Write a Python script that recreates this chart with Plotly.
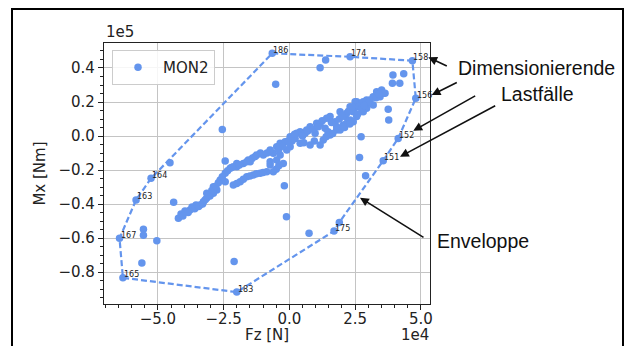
import plotly.graph_objects as go

# Fz in units of 1e4 N, Mx in units of 1e5 Nm (as shown on the axes)
band_fz = [-4.22, -4.12, -3.97, -3.78, -3.70, -3.55, -3.40, -3.27, -3.14, -3.14, -3.02, -2.89,
           -2.76, -2.63, -2.44, -2.44, -2.25, -2.13, -2.00, -1.75, -1.62, -1.56, -1.24, -1.10,
           -0.99, -0.73, -0.61, -0.48, -0.10, -2.00, -1.49, -3.90, -3.65, -2.89,
           -2.13, -1.87, -1.62, -1.37, -1.11, -0.86, -0.61, -0.73, -0.48, -0.23, -0.73, -0.35,
           -0.73, -0.35, -0.16, 0.03, 0.03, 0.22, 0.41, 0.41, 0.60, 0.79, 0.79, 0.98, 1.17,
           1.17, 1.29, 1.36, 1.47, 1.55, 1.55, 1.74, 1.80, 1.93, 1.93, 2.05, 2.12, 2.31, 2.31,
           2.43, 2.56, 2.56, 2.81, 0.28, 0.66, 1.04, 1.42, 1.80,
           2.18, 2.43, 2.69, 2.94, 3.19, 3.32, 3.51, 3.57, 3.19, 2.94, 2.05, 2.18, 2.43, 3.45,
           3.64, 3.07, 2.81, 2.50, 2.56,
           -4.05, -3.85, -3.60, -3.45, -3.30, -3.20, -3.05, -2.95, -2.80, -2.70, -2.55, -2.35,
           -2.20, -1.90, -1.40, -1.30, -0.85, -0.40, -0.25,
           -2.00, -1.75, -1.50, -1.25, -1.00, -0.50, -0.40,
           0.10, 0.50, 0.70, 0.90, 1.10, 1.25, 1.60, 1.90, 2.00, 2.25, 2.40, 2.65, 2.75, 3.00,
           3.30, 3.40, 0.55, 0.95, 1.40, 1.65, 2.10, 2.30, 2.60, 2.85, 0.20, -0.05]
band_mx = [-0.484, -0.459, -0.441, -0.435, -0.418, -0.406, -0.406, -0.386, -0.365, -0.337, -0.353, -0.298,
           -0.318, -0.259, -0.269, -0.219, -0.190, -0.181, -0.181, -0.161, -0.151, -0.141, -0.112, -0.100,
           -0.112, -0.092, -0.102, -0.063, -0.082, -0.161, -0.151, -0.445, -0.425, -0.337,
           -0.288, -0.269, -0.239, -0.229, -0.219, -0.210, -0.210, -0.171, -0.141, -0.161, -0.151, -0.112,
           -0.082, -0.043, -0.034, -0.063, -0.004, -0.014, -0.043, 0.025, 0.016, 0.055, -0.053, 0.016, 0.075,
           -0.053, -0.024, 0.045, 0.025, 0.114, 0.006, 0.084, 0.035, 0.143, 0.035, 0.065, 0.114, 0.172, 0.094,
           0.143, 0.202, 0.114, 0.143, 0.016, 0.035, 0.075, 0.104, 0.055,
           0.134, 0.153, 0.192, 0.212, 0.231, 0.261, 0.271, 0.251, 0.182, 0.163, 0.055, 0.075, 0.084, 0.231,
           0.251, 0.212, 0.202, 0.202, 0.172,
           -0.470, -0.450, -0.428, -0.415, -0.400, -0.375, -0.345, -0.320, -0.295, -0.275, -0.240, -0.205,
           -0.185, -0.170, -0.130, -0.120, -0.100, -0.080, -0.060,
           -0.280, -0.255, -0.235, -0.222, -0.215, -0.195, -0.175,
           -0.030, 0.000, 0.030, 0.040, 0.055, 0.090, 0.080, 0.100, 0.120, 0.145, 0.170, 0.175, 0.160, 0.195,
           0.225, 0.245, -0.040, -0.030, -0.005, 0.015, 0.050, 0.070, 0.130, 0.180, 0.010, -0.030]

other_fz = [-0.52, -2.55, 1.17, 1.38, 3.94, 4.35, 3.92, 4.20, 3.76, 3.78, 2.73, 2.67, 2.90,
            -0.19, -0.11, 0.75, -2.44, -2.10, -4.54, -4.40, -5.55, -5.55, -5.04, -5.61]
other_mx = [0.304, 0.039, 0.402, 0.447, 0.359, 0.366, 0.310, 0.310, 0.157, 0.094, -0.004, -0.126, -0.234,
            -0.292, -0.475, -0.572, -0.147, -0.738, -0.157, -0.390, -0.549, -0.584, -0.616, -0.747]

# envelope vertices (in drawing order)
env_fz = [-0.65, 2.31, 4.68, 4.81, 4.14, 3.57, 1.90, 1.70, -2.00, -6.33, -6.46, -5.83, -5.26]
env_mx = [0.486, 0.466, 0.443, 0.222, -0.014, -0.145, -0.508, -0.559, -0.918, -0.834, -0.602, -0.376, -0.249]
env_labels = ["186", "174", "158", "156", "152", "151", "", "175", "183", "165", "167", "163", "164"]

fz_all = band_fz + other_fz + env_fz
mx_all = band_mx + other_mx + env_mx

BLUE = "#6495ED"
OFF = 8                      # default page margin of the browser body
W, H = 635 - OFF, 354 - 2 * OFF
# plot area in picture pixels
L, R, T, B = 104, 430, 43, 304

def px(x):
    return (x - L) / (R - L)

def py(y):
    return (B - y) / (B - T)

fig = go.Figure()
fig.add_trace(go.Scatter(
    x=env_fz + env_fz[:1], y=env_mx + env_mx[:1], mode="lines",
    line=dict(color=BLUE, width=2.2, dash="6px,3px"), showlegend=False, hoverinfo="skip"))
fig.add_trace(go.Scatter(
    x=fz_all, y=mx_all, mode="markers", name="MON2",
    marker=dict(color=BLUE, size=7.5, line=dict(width=0))))

annotations = []
for fx, my, lab in zip(env_fz, env_mx, env_labels):
    if lab:
        annotations.append(dict(x=fx, y=my, xref="x", yref="y", text=lab, showarrow=False,
                                xanchor="left", yanchor="middle", xshift=-1, yshift=3,
                                font=dict(size=8, color="#222", family="DejaVu Sans")))

afont = dict(size=19.5, color="#111", family="Liberation Sans, Arial")
annotations += [
    dict(x=px(536), y=py(68), xref="paper", yref="paper", text="Dimensionierende",
         showarrow=False, xanchor="center", yanchor="middle", font=afont),
    dict(x=px(537), y=py(94), xref="paper", yref="paper", text="Lastfälle",
         showarrow=False, xanchor="center", yanchor="middle", font=afont),
    dict(x=px(483), y=py(241), xref="paper", yref="paper", text="Enveloppe",
         showarrow=False, xanchor="center", yanchor="middle", font=afont),
]
arrows = [((428.3, 57.3), (448.3, 66.7)),
          ((431.7, 95.0), (458.3, 81.7)),
          ((413.3, 130.7), (476.7, 95.0)),
          ((400.0, 156.7), (496.7, 105.0)),
          ((360.0, 197.7), (425.0, 238.3))]
for (tx, ty), (sx, sy) in arrows:
    annotations.append(dict(x=px(tx), y=py(ty), xref="paper", yref="paper", text="",
                            showarrow=True, ax=sx - tx, ay=sy - ty, arrowhead=2,
                            arrowsize=1.1, arrowwidth=1.6, arrowcolor="#111"))

tfont = dict(size=15, color="#222", family="DejaVu Sans")
annotations += [
    dict(x=0, y=1, xref="paper", yref="paper", text="1e5", showarrow=False,
         xanchor="left", yanchor="bottom", font=tfont),
    dict(x=1, y=py(335), xref="paper", yref="paper", text="1e4", showarrow=False,
         xanchor="right", yanchor="middle", borderpad=0, font=tfont),
    dict(x=0.5, y=py(335), xref="paper", yref="paper", text="Fz [N]", showarrow=False,
         xanchor="center", yanchor="middle", borderpad=0, font=tfont),
]

fig.update_layout(
    width=W, height=H,
    margin=dict(l=L - OFF, r=635 - R, t=T - OFF, b=(354 - OFF) - B, autoexpand=False),
    paper_bgcolor="white", plot_bgcolor="white",
    font=tfont,
    showlegend=True,
    legend=dict(x=px(112), y=py(50), xanchor="left", yanchor="top",
                bgcolor="rgba(255,255,255,0.85)", bordercolor="#cccccc", borderwidth=1,
                font=dict(size=15, color="#222", family="DejaVu Sans"),
                itemwidth=40),
    annotations=annotations,
    shapes=[dict(type="rect", xref="paper", yref="paper",
                 x0=px(12), x1=px(623), y0=py(362), y1=py(9),
                 line=dict(color="black", width=2), fillcolor="rgba(0,0,0,0)")],
)
fig.update_xaxes(
    range=[-7.05, 5.35], dtick=2.5, tick0=0, tickformat=".1f", automargin=False,
    showgrid=True, gridcolor="#c4c4c4", gridwidth=1.3, zeroline=False,
    showline=True, linecolor="#222", linewidth=1.3, mirror=True,
    ticks="outside", ticklen=5, tickwidth=1.2, tickcolor="#222", ticklabelstandoff=-4,
    minor=dict(dtick=0.5, tick0=0, ticks="outside", ticklen=3, tickcolor="#222", showgrid=False),
)
fig.update_yaxes(
    range=[-0.988, 0.547], dtick=0.2, tick0=0, tickformat=".1f", automargin=False,
    showgrid=True, gridcolor="#c4c4c4", gridwidth=1.3, zeroline=False,
    showline=True, linecolor="#222", linewidth=1.3, mirror=True,
    ticks="outside", ticklen=5, tickwidth=1.2, tickcolor="#222",
    minor=dict(dtick=0.05, tick0=0, ticks="outside", ticklen=3, tickcolor="#222", showgrid=False),
    title=dict(text="Mx [Nm]", standoff=9, font=tfont),
)
fig.write_html("out.html", config={"displayModeBar": False})
